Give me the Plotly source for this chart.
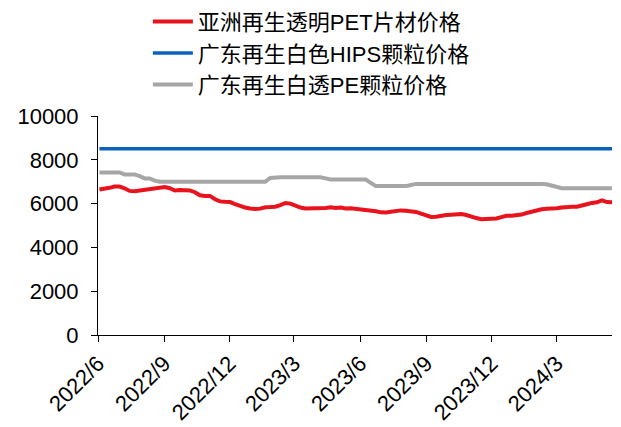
import pandas as pd
import plotly.graph_objects as go

# Weekly observation dates (Fridays)
dates = pd.date_range("2022-06-03", "2024-05-17", freq="7D")

# 亚洲再生透明PET片材价格 (元/吨)
pet_sheet = [
    6640, 6660, 6720, 6780, 6780, 6700, 6580, 6560, 6600, 6630,
    6660, 6680, 6720, 6760, 6700, 6600, 6620, 6620, 6600, 6520,
    6380, 6350, 6350, 6200, 6100, 6080, 6070, 5980, 5880, 5820,
    5780, 5750, 5770, 5830, 5840, 5860, 5930, 6030, 6000, 5900,
    5820, 5780, 5780, 5800, 5780, 5800, 5830, 5800, 5820, 5780,
    5790, 5760, 5760, 5740, 5700, 5650, 5600, 5590, 5630, 5680,
    5690, 5670, 5650, 5620, 5540, 5440, 5390, 5400, 5460, 5480,
    5490, 5500, 5520, 5480, 5400, 5340, 5290, 5290, 5300, 5320,
    5380, 5440, 5450, 5460, 5500, 5570, 5630, 5680, 5740, 5760,
    5760, 5790, 5820, 5850, 5860, 5860, 5900, 5970, 6030, 6060,
    6150, 6070, 6060,
]

# 广东再生白色HIPS颗粒价格
hips_white = [8500] * len(dates)

# 广东再生白透PE颗粒价格
pe_clear = [
    7420, 7420, 7420, 7420, 7420, 7330, 7330, 7330, 7250, 7150,
    7150, 7050, 7000, 7000, 7000, 7000, 7000, 7000, 7000, 7000,
    7000, 7000, 7000, 7000, 7000, 7000, 7000, 7000, 7000, 7000,
    7000, 7000, 7000, 7000, 7170, 7200, 7200, 7200, 7200, 7200,
    7200, 7200, 7200, 7200, 7200, 7150, 7100, 7100, 7100, 7100,
    7100, 7100, 7100, 7100, 6950, 6800, 6800, 6800, 6800, 6800,
    6800, 6800, 6850, 6900, 6900, 6900, 6900, 6900, 6930, 6900,
    6900, 6900, 6900, 6900, 6900, 6900, 6900, 6900, 6900, 6900,
    6900, 6900, 6900, 6900, 6900, 6900, 6900, 6900, 6900, 6880,
    6820, 6800, 6700, 6700, 6700, 6700, 6700, 6700, 6700, 6700,
    6700, 6700, 6700,
]

tick_dates = ["2022-06-01", "2022-09-01", "2022-12-01", "2023-03-01",
              "2023-06-01", "2023-09-01", "2023-12-01", "2024-03-01"]
tick_labels = ["2022/6", "2022/9", "2022/12", "2023/3",
               "2023/6", "2023/9", "2023/12", "2024/3"]

y_ticks = [0, 2000, 4000, 6000, 8000, 10000]
y_labels = ["0", "2000", "4000", "6000", "8000", "10000"]

series = [
    ("亚洲再生透明PET片材价格", pet_sheet, "#E8131C", 4),
    ("广东再生白色HIPS颗粒价格", hips_white, "#0A62BE", 3.5),
    ("广东再生白透PE颗粒价格", pe_clear, "#A6A6A6", 4),
]

fig = go.Figure()
for name, vals, color, w in series:
    fig.add_trace(go.Scatter(
        x=dates, y=vals, name=name, mode="lines",
        line=dict(color=color, width=w),
    ))

base_font = "Arial, Liberation Sans, Noto Sans CJK SC, sans-serif"

fig.update_layout(
    width=621, height=427,
    margin=dict(l=98, r=9, t=116, b=92, autoexpand=False),
    paper_bgcolor="white", plot_bgcolor="white",
    font=dict(family=base_font, size=22, color="#000000"),
    showlegend=True,
    legend=dict(
        x=0.097, y=1.527, xanchor="left", yanchor="top",
        font=dict(family=base_font, size=22, color="#000000"),
        bgcolor="rgba(0,0,0,0)", tracegroupgap=0,
        itemwidth=40,
    ),
    xaxis=dict(
        type="date",
        range=["2022-06-01", "2024-05-17"],
        tickmode="array", tickvals=tick_dates, ticktext=tick_labels,
        tickangle=-45, automargin=False,
        showline=True, linecolor="#000000", linewidth=1,
        ticks="outside", ticklen=6, tickcolor="#000000",
        showgrid=False, zeroline=False,
        tickfont=dict(size=22),
    ),
    yaxis=dict(
        range=[0, 10000], automargin=False,
        tickmode="array", tickvals=y_ticks, ticktext=y_labels,
        showline=True, linecolor="#000000", linewidth=1,
        ticks="outside", ticklen=6, tickcolor="#000000",
        ticklabelstandoff=8,
        showgrid=False, zeroline=False,
        tickfont=dict(size=22),
    ),
)

fig.write_html("out.html")
